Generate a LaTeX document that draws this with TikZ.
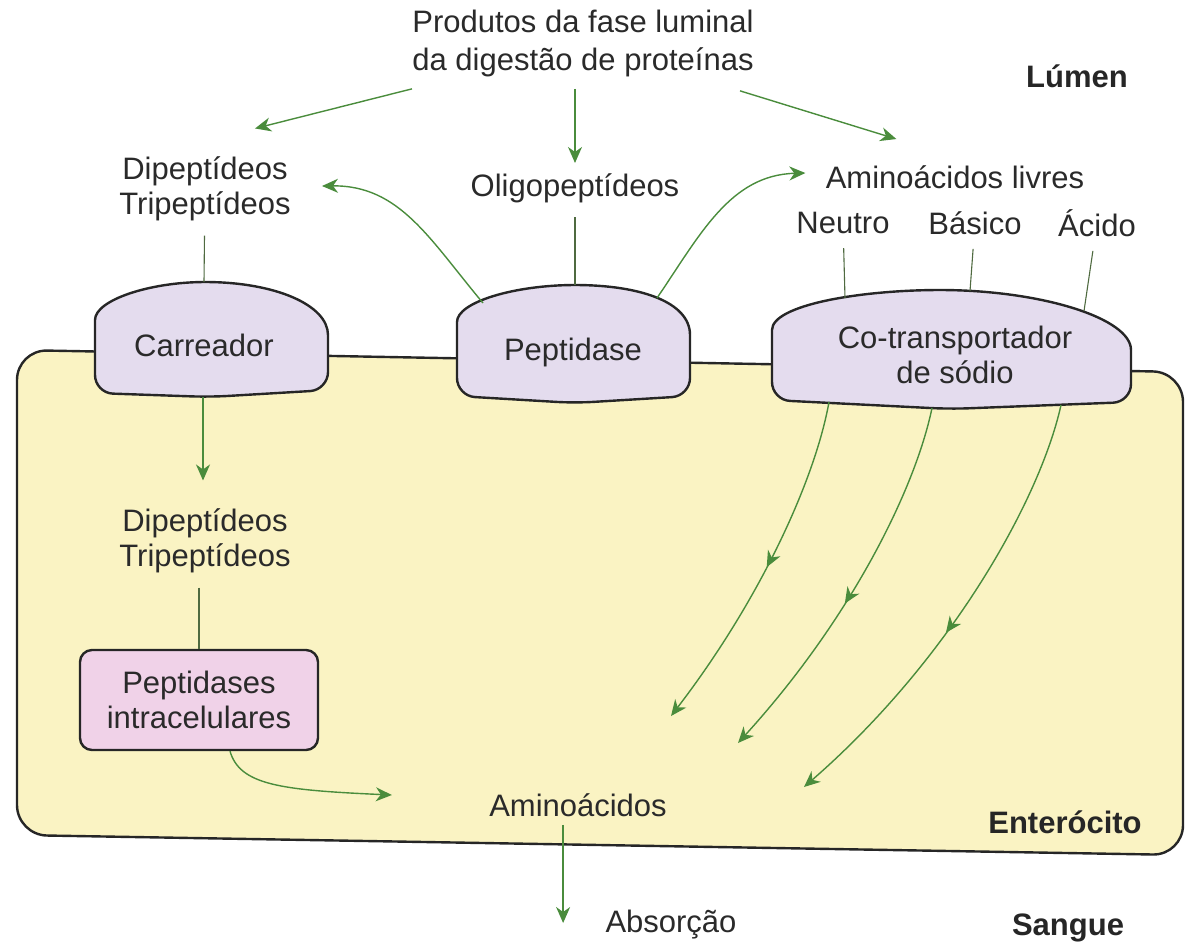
\documentclass[tikz,border=0pt]{standalone}
\usepackage{fontspec}
\setmainfont{Liberation Sans}
\usetikzlibrary{arrows.meta,positioning,calc,decorations.markings}
\definecolor{CellYellow}{HTML}{FAF3C3}
\definecolor{DomeLilac}{HTML}{E4DCEE}
\definecolor{BoxPink}{HTML}{F0D2E8}
\definecolor{FlowGreen}{HTML}{4A8C3C}
\definecolor{StemOlive}{HTML}{4F6A40}
\definecolor{Ink}{HTML}{2A2A2A}

\begin{document}
\begin{tikzpicture}[x=0.5pt, y=-0.5pt,
  every node/.style={font=\fontsize{15.5}{17.5}\selectfont, text=Ink, align=center, inner sep=2pt},
  region/.style={font=\fontsize{15.5}{17.5}\selectfont\bfseries, text=black!85},
  outline/.style={draw=black!85, line width=1.2pt},
  protein/.style={outline, fill=DomeLilac},
  stem/.style={draw=StemOlive, line width=0.55pt, shorten <=5pt},
  flow/.style={color=FlowGreen, line width=0.7pt, -{Stealth[length=8pt,width=7pt,inset=2.5pt]}},
  midtip/.style={postaction={decorate, decoration={markings, mark=at position #1 with {\arrow{Stealth[length=8pt,width=7pt,inset=2.5pt]}}}}}]

  \useasboundingbox (0,0) rectangle (1188,950);

  % enterocito
  \draw[outline, fill=CellYellow, rounded corners=15pt] (17,600) -- (17,350) -- (1183,372) -- (1183,855) -- (17,835) -- cycle;

  % proteinas de membrana
  \draw[protein] (95,338) .. controls (95,300) and (150,282) .. (205,282) .. controls (275,282) and (328,305) .. (328,335) [rounded corners=9pt] -- (328,390) -- (210,397) -- (95,393) -- cycle;
  \draw[protein] (457,340) .. controls (457,302) and (515,285) .. (575,285) .. controls (640,285) and (690,302) .. (690,335) [rounded corners=9pt] -- (690,396) -- (575,403) -- (457,396) -- cycle;
  \draw[protein] (772,348) .. controls (772,305) and (860,290) .. (940,290) .. controls (1040,290) and (1131,318) .. (1131,350) [rounded corners=9pt] -- (1131,402) -- (950,409) -- (772,400) -- cycle;

  \coordinate (carr-top) at (204,282);
  \coordinate (carr-bot) at (203,397);
  \coordinate (pep-top) at (575,285);
  \coordinate (pep-l) at (483,303);
  \coordinate (pep-r) at (657,298);
  \coordinate (cot-n) at (845,298);
  \coordinate (cot-b) at (970,291);
  \coordinate (cot-a) at (1084,311);
  \coordinate (cot-n2) at (829,402);
  \coordinate (cot-b2) at (932,408);
  \coordinate (cot-a2) at (1061,405);
  \coordinate (end-n) at (671,716);
  \coordinate (end-b) at (738,743);
  \coordinate (end-a) at (804,787);

  % textos
  \node[font=\fontsize{15.5}{19}\selectfont] (produtos) at (583,43) {Produtos da fase luminal\\da digestão de proteínas};
  \node[region] (lumen) at (1077,76) {Lúmen};
  \node (dt1) at (205,189) {Dipeptídeos\\Tripeptídeos};
  \node (oligo) at (575,188) {Oligopeptídeos};
  \node (livres) at (955,177) {Aminoácidos livres};
  \node (neutro) at (843,223) {Neutro};
  \node (basico) at (975,223) {Básico};
  \node (acido) at (1097,223) {Ácido};
  \node (carr) at (204,345) {Carreador};
  \node (pep) at (573,352) {Peptidase};
  \node (cot) at (955,355) {Co-transportador\\de sódio};
  \node (dt2) at (205,541) {Dipeptídeos\\Tripeptídeos};
  \node[outline, fill=BoxPink, rounded corners=6pt, minimum width=119pt, minimum height=50pt] (intra) at (199,700) {Peptidases\\intracelulares};
  \node (amino) at (578,805) {Aminoácidos};
  \node[region] (entero) at (1065,822) {Enterócito};
  \node (absor) at (671,925) {Absorção};
  \node[region] (sangue) at (1068,928) {Sangue};

  % ligacoes
  \draw[stem] (dt1) -- (carr-top);
  \draw[stem] (oligo) -- (pep-top);
  \draw[stem] (neutro) -- (cot-n);
  \draw[stem] (basico) -- (cot-b);
  \draw[stem] (acido) -- (cot-a);
  \draw[stem] (dt2.south -| intra) -- (intra);

  % setas
  \draw[flow] ($(produtos.south west)+(4,8)$) -- ($(dt1.north east)+(-40,-24)$);
  \draw[flow, shorten <=4pt, shorten >=3pt] (produtos.south -| oligo.north) -- (oligo.north);
  \draw[flow] ($(produtos.south east)+(-18,10)$) -- ($(livres.north west)+(75,-22)$);
  \draw[flow] (pep-l) .. controls (430,240) and (400,185) .. ($(dt1.east)+(27,-3)$);
  \draw[flow] (pep-r) .. controls (700,235) and (730,175) .. ($(livres.west)+(-16,-4)$);
  \draw[flow] (carr-bot) -- ($(dt2.north)+(-2,-24)$);
  \draw[flow] ($(intra.south)+(31,0)$) .. controls (240,785) and (280,790) .. ($(amino.west)+(-93,-10)$);
  \draw[flow, midtip=0.5] (cot-n2) .. controls (815,480) and (760,600) .. (end-n);
  \draw[flow, midtip=0.55] (cot-b2) .. controls (915,490) and (850,620) .. (end-b);
  \draw[flow, midtip=0.55] (cot-a2) .. controls (1040,500) and (950,660) .. (end-a);
  \coordinate (drop) at ($(absor.west)+(-38,-2)$);
  \draw[flow, shorten <=2pt] (amino.south -| drop) -- (drop);
\end{tikzpicture}
\end{document}
